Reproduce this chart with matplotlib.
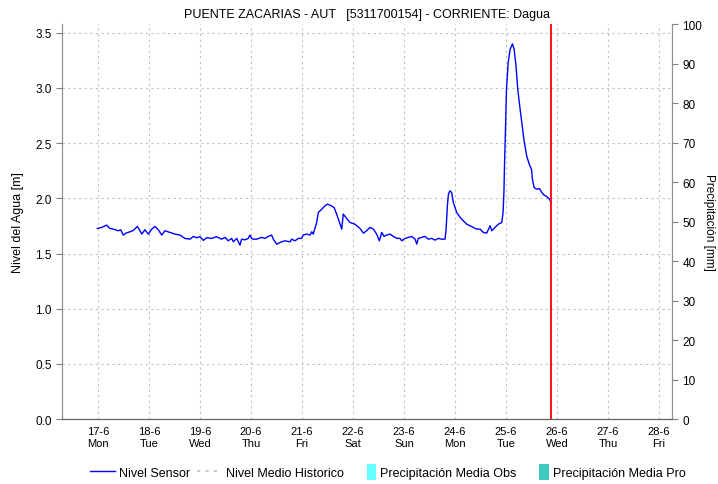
import matplotlib.pyplot as plt
from matplotlib.lines import Line2D
from matplotlib.patches import Patch, Rectangle
from matplotlib.legend_handler import HandlerPatch
import numpy as np

plt.rcParams['font.family'] = ['Liberation Sans', 'DejaVu Sans']

# horas desde 17-6 00:00 y nivel del sensor [m]
horas = [-0.3, 1.7, 4.1, 5.6, 7.2, 9.6, 10.7, 11.9, 13.2, 15.1, 16.6, 18.5,
         19.8, 20.6, 22.1, 23.7, 25.3, 26.8, 28.4, 30.0, 31.5, 33.9, 36.2,
         38.6, 40.9, 43.3, 44.9, 46.4, 48.0, 49.6, 51.1, 53.5, 55.8, 58.2,
         59.8, 61.3, 62.9, 63.7, 65.3, 66.8, 67.6, 69.2, 70.7, 71.5, 72.3,
         73.1, 74.7, 77.0, 78.6, 80.1, 81.7, 82.5, 84.1, 86.4, 88.0, 90.4,
         91.1, 92.7, 94.3, 95.8, 96.6, 98.2, 99.8, 100.6, 101.3, 102.9, 103.7,
         105.3, 106.8, 107.9, 109.2, 111.1, 112.3, 113.9, 114.7, 115.1, 115.4,
         117.0, 118.6, 120.9, 123.3, 124.9, 126.4, 128.0, 129.6, 131.1, 132.4,
         133.5, 134.6, 135.8, 137.4, 139.0, 140.6, 142.1, 142.9, 144.5, 146.0,
         147.6, 149.2, 150.0, 150.7, 152.3, 153.9, 155.4, 157.0, 158.6, 160.1,
         161.7, 163.3, 163.8, 164.4, 164.9, 165.6, 166.4, 167.2, 168.8, 170.4,
         171.9, 173.5, 175.1, 176.6, 178.2, 179.8, 181.3, 182.9, 184.5, 185.3,
         186.8, 188.4, 190.0, 190.6, 191.0, 191.3, 191.8, 192.2, 193.0, 193.9,
         195.0, 195.8, 196.7, 197.5, 198.6, 199.7, 200.5, 201.7, 202.9, 204.0,
         204.4, 205.2, 206.4, 207.7, 208.8, 209.9, 211.1, 212.4, 213.0]
nivel = [1.727, 1.736, 1.757, 1.727, 1.721, 1.706, 1.715, 1.667, 1.685, 1.697,
         1.709, 1.745, 1.706, 1.676, 1.715, 1.676, 1.721, 1.745, 1.715, 1.667,
         1.706, 1.691, 1.676, 1.667, 1.637, 1.630, 1.655, 1.643, 1.652, 1.619,
         1.643, 1.637, 1.652, 1.630, 1.646, 1.615, 1.637, 1.606, 1.637, 1.576,
         1.630, 1.624, 1.637, 1.667, 1.637, 1.630, 1.630, 1.646, 1.637, 1.655,
         1.667, 1.630, 1.585, 1.606, 1.615, 1.606, 1.630, 1.615, 1.637, 1.637,
         1.667, 1.676, 1.667, 1.697, 1.676, 1.781, 1.872, 1.902, 1.932, 1.947,
         1.938, 1.917, 1.857, 1.766, 1.721, 1.796, 1.857, 1.818, 1.781, 1.766,
         1.727, 1.685, 1.706, 1.736, 1.721, 1.676, 1.615, 1.691, 1.655, 1.667,
         1.676, 1.655, 1.637, 1.637, 1.615, 1.637, 1.646, 1.655, 1.630, 1.585,
         1.637, 1.646, 1.655, 1.630, 1.637, 1.621, 1.637, 1.630, 1.630, 1.721,
         1.932, 2.038, 2.068, 2.053, 1.962, 1.872, 1.827, 1.796, 1.766, 1.751,
         1.736, 1.721, 1.721, 1.691, 1.685, 1.751, 1.706, 1.736, 1.766, 1.781,
         1.872, 2.053, 2.325, 2.672, 2.989, 3.23, 3.35, 3.40, 3.35, 3.20, 2.99,
         2.81, 2.64, 2.52, 2.385, 2.31, 2.26, 2.174, 2.098, 2.083, 2.089, 2.053,
         2.029, 2.017, 1.993, 1.968]

ahora = 213.2
dias = ['17-6\nMon', '18-6\nTue', '19-6\nWed', '20-6\nThu', '21-6\nFri',
        '22-6\nSat', '23-6\nSun', '24-6\nMon', '25-6\nTue', '26-6\nWed',
        '27-6\nThu', '28-6\nFri']


class NarrowPatch(HandlerPatch):
    def create_artists(self, legend, orig_handle, xdescent, ydescent,
                       width, height, fontsize, trans):
        p = Rectangle((width - 7, -3), 7, height + 5,
                      facecolor=orig_handle.get_facecolor(), edgecolor='none',
                      transform=trans)
        return [p]


fig = plt.figure(figsize=(7.18, 4.85), dpi=100)
ax = fig.add_axes([0.0864, 0.134, 0.8496, 0.814])
ax2 = ax.twinx()

ax.plot(horas, nivel, color='#0000ff', lw=1.0, zorder=3)
ax.axvline(ahora, color='#ff0000', lw=1.3, zorder=4)

ax.set_xlim(-16.9, 270.1)
ax.set_ylim(0, 3.578)
ax2.set_ylim(0, 100)

ax.set_xticks(np.arange(len(dias)) * 24)
ax.set_xticklabels(dias, fontsize=8, linespacing=1.25)
ax.set_yticks(np.arange(0, 3.6, 0.5))
ax.set_yticklabels(['%.1f' % v for v in np.arange(0, 3.6, 0.5)], fontsize=8.5)
ax2.set_yticks(np.arange(0, 101, 10))
ax2.tick_params(axis='y', labelsize=8.5, length=4, color='#808080')
ax.tick_params(axis='y', length=4, color='#808080')
ax.tick_params(axis='x', length=0, pad=5)

ax.grid(True, color='#c0c0c0', linestyle=(0, (2, 3)), lw=0.8)
ax.set_axisbelow(True)

for a in (ax, ax2):
    a.spines['top'].set_visible(False)
    a.spines['left'].set_color('#909090')
    a.spines['right'].set_color('#909090')
    a.spines['bottom'].set_color('#606060')
    a.spines['bottom'].set_linestyle((0, (1, 1)))

ax.set_ylabel('Nivel del Agua [m]', fontsize=9, labelpad=8)
ax2.set_ylabel('Precipitación [mm]', fontsize=8.5, rotation=270, labelpad=9)
ax.set_title('PUENTE ZACARIAS - AUT   [5311700154] - CORRIENTE: Dagua',
             fontsize=9, pad=5)

handles = [Line2D([], [], color='#0000ff', lw=1.0),
           Line2D([], [], color='#c0c0c0', lw=1.2, linestyle=(0, (2, 3))),
           Patch(facecolor='#66ffff', edgecolor='none'),
           Patch(facecolor='#40c8c0', edgecolor='none')]
labels = ['Nivel Sensor', 'Nivel Medio Historico',
          'Precipitación Media Obs', 'Precipitación Media Pro']
fig.legend(handles, labels, loc='lower center', bbox_to_anchor=(0.54, -0.012),
           ncol=4, frameon=False, fontsize=9, handlelength=2.0,
           handletextpad=0.3, columnspacing=0.6,
           handler_map={Patch: NarrowPatch()})

plt.savefig('out.png', dpi=100)
